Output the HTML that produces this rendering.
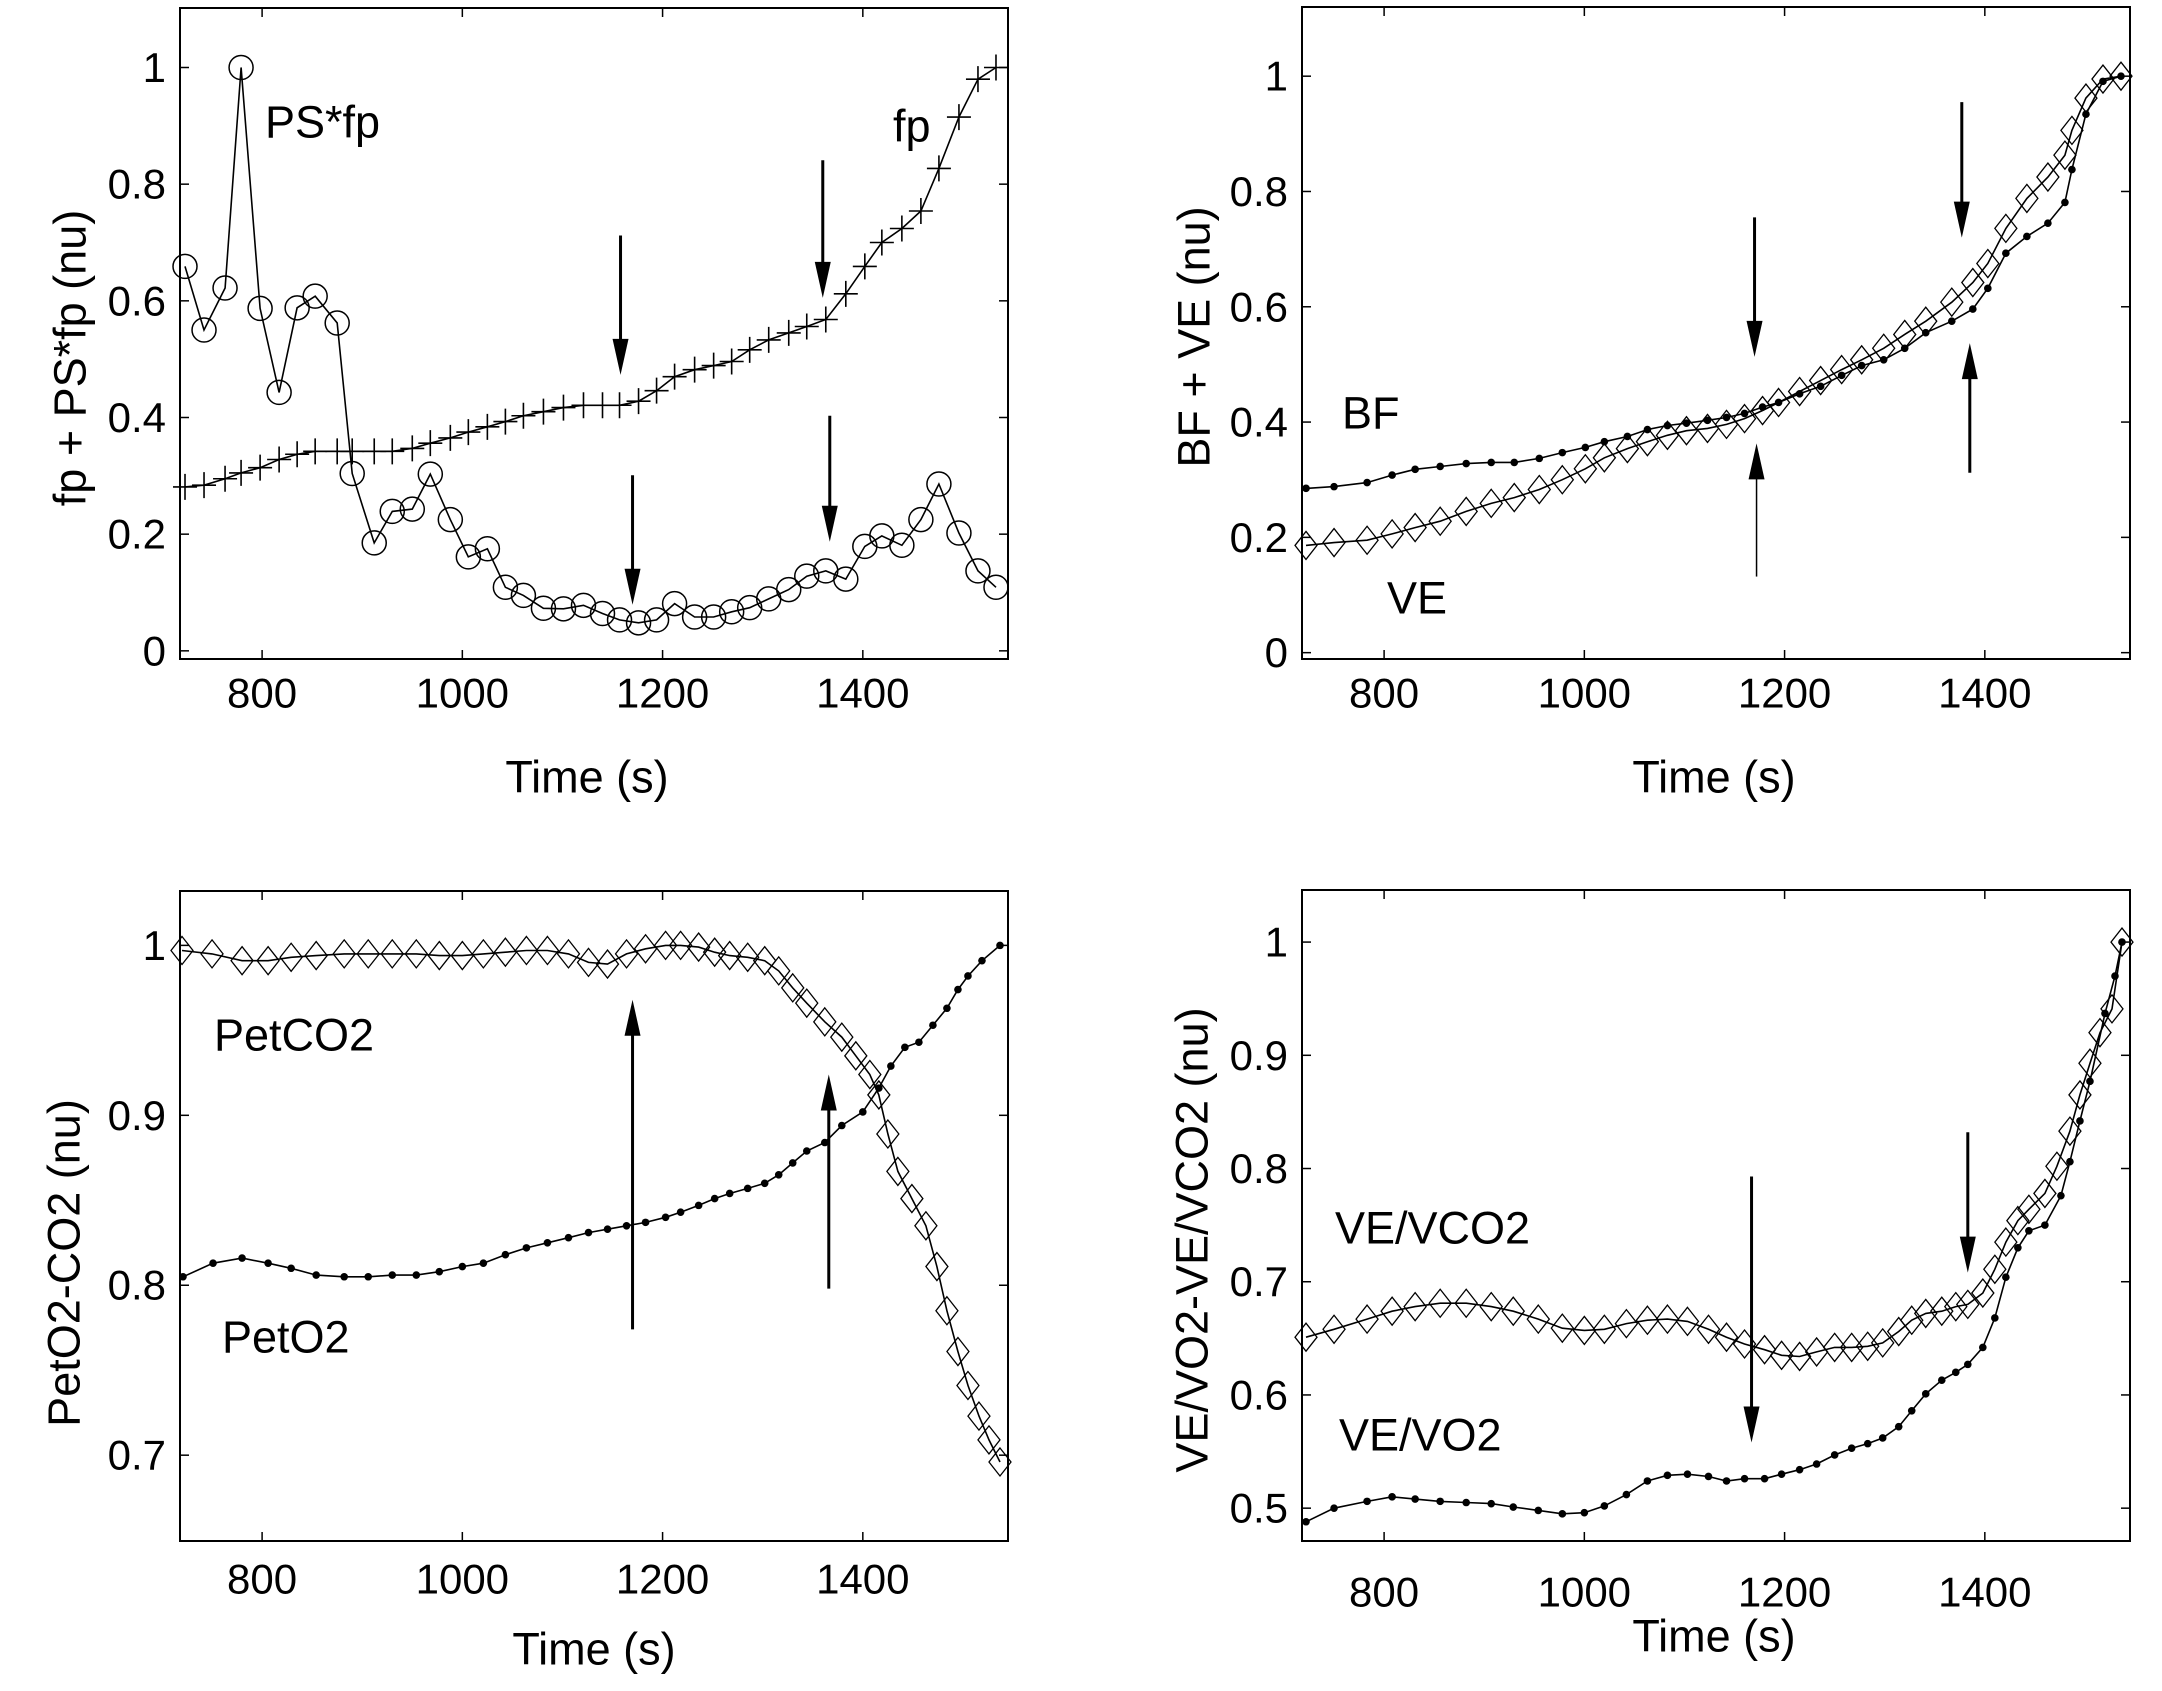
<!DOCTYPE html>
<html><head><meta charset="utf-8"><title>Physiological signals vs time</title>
<style>
html,body{margin:0;padding:0;background:#fff;}
svg{display:block;}
text{font-family:"Liberation Sans",Arial,sans-serif;fill:#000;}
</style></head>
<body>
<svg id="fig" width="2162" height="1691" viewBox="0 0 2162 1691" xmlns="http://www.w3.org/2000/svg"></svg>
<script>
// ---------- Panel A: fp + PS*fp ----------
const tA = [723,742,763,779,798,817,835,853,875,890,912,930,950,968,988,1006,1025,1043,1061,1081,1101,1121,1140,1157,1176,1194,1212,1232,1251,1269,1287,1306,1326,1344,1363,1383,1402,1419,1439,1458,1476,1496,1515,1533];
const psfp = [0.659,0.550,0.622,1.0,0.587,0.443,0.588,0.608,0.562,0.304,0.185,0.239,0.243,0.303,0.225,0.161,0.175,0.109,0.095,0.073,0.072,0.078,0.064,0.053,0.048,0.053,0.081,0.058,0.058,0.067,0.074,0.089,0.105,0.128,0.137,0.123,0.179,0.197,0.181,0.225,0.286,0.202,0.137,0.109];
const fp = [0.281,0.284,0.295,0.305,0.314,0.328,0.337,0.342,0.342,0.342,0.342,0.342,0.347,0.356,0.365,0.375,0.384,0.393,0.403,0.410,0.417,0.421,0.421,0.421,0.428,0.446,0.470,0.482,0.489,0.496,0.516,0.533,0.545,0.556,0.568,0.612,0.659,0.700,0.724,0.754,0.827,0.915,0.980,1.0];
// ---------- Panel B: BF + VE ----------
const tB = [722,750,783,808,831,856,882,907,930,955,978,1001,1020,1043,1063,1083,1102,1123,1142,1160,1178,1194,1215,1236,1257,1277,1299,1320,1341,1367,1388,1403,1421,1442,1463,1480,1487,1501,1518,1536];
const bf = [0.285,0.288,0.295,0.308,0.318,0.323,0.328,0.330,0.330,0.337,0.347,0.356,0.366,0.375,0.387,0.394,0.398,0.403,0.408,0.415,0.426,0.434,0.449,0.462,0.481,0.498,0.508,0.528,0.555,0.575,0.596,0.632,0.693,0.722,0.745,0.781,0.838,0.934,0.991,1.0];
const ve = [0.186,0.191,0.195,0.206,0.217,0.228,0.245,0.259,0.269,0.283,0.300,0.319,0.338,0.354,0.366,0.377,0.385,0.389,0.396,0.406,0.420,0.434,0.453,0.472,0.491,0.508,0.528,0.552,0.575,0.608,0.642,0.675,0.736,0.788,0.825,0.863,0.906,0.962,0.995,1.0];
// ---------- Panel C: PetO2 / PetCO2 ----------
const tC1 = [721,751,780,806,829,854,882,906,930,954,977,1000,1021,1043,1064,1085,1106,1126,1145,1164,1183,1203,1218,1236,1252,1267,1285,1302,1316,1330,1344,1362,1379,1400,1416,1428,1442,1456,1470,1484,1495,1505,1519,1537];
const peto2 = [0.805,0.813,0.816,0.813,0.810,0.806,0.805,0.805,0.806,0.806,0.808,0.811,0.813,0.818,0.822,0.825,0.828,0.831,0.833,0.835,0.837,0.840,0.843,0.847,0.851,0.854,0.857,0.860,0.865,0.872,0.879,0.884,0.894,0.902,0.916,0.929,0.940,0.943,0.953,0.963,0.974,0.982,0.991,1.0];
const tC2 = [720,750,780,806,829,854,882,906,930,954,977,1000,1021,1043,1064,1085,1106,1126,1145,1164,1183,1203,1218,1236,1252,1267,1285,1302,1316,1330,1344,1362,1379,1393,1407,1416,1425,1435,1449,1463,1474,1484,1495,1505,1516,1526,1537];
const petco2 = [0.997,0.995,0.991,0.991,0.993,0.994,0.995,0.995,0.995,0.995,0.994,0.994,0.995,0.996,0.997,0.997,0.995,0.990,0.989,0.995,0.998,1.0,1.0,0.999,0.996,0.994,0.993,0.991,0.985,0.975,0.966,0.955,0.946,0.935,0.924,0.912,0.889,0.867,0.851,0.835,0.811,0.785,0.761,0.741,0.723,0.709,0.696];
// ---------- Panel D: VE/VO2, VE/VCO2 ----------
const tD1 = [722,750,783,808,831,856,882,907,929,954,978,1000,1020,1042,1063,1083,1103,1124,1142,1160,1180,1197,1215,1232,1250,1267,1283,1298,1314,1327,1341,1357,1371,1383,1398,1410,1421,1433,1444,1460,1476,1485,1495,1505,1520,1530,1537];
const vevo2 = [0.488,0.500,0.506,0.510,0.508,0.506,0.505,0.504,0.501,0.498,0.495,0.496,0.502,0.512,0.524,0.529,0.530,0.528,0.524,0.526,0.526,0.530,0.534,0.539,0.547,0.553,0.557,0.562,0.572,0.586,0.601,0.613,0.620,0.627,0.642,0.668,0.704,0.730,0.745,0.750,0.776,0.806,0.842,0.877,0.937,0.970,1.0];
const tD2 = [722,750,783,808,831,856,882,907,929,954,978,1000,1020,1042,1063,1083,1103,1124,1142,1160,1180,1197,1215,1232,1250,1267,1283,1298,1314,1327,1341,1357,1371,1383,1398,1410,1421,1433,1444,1460,1472,1485,1495,1505,1515,1527,1537];
const vevco2 = [0.651,0.658,0.667,0.674,0.678,0.681,0.681,0.678,0.674,0.667,0.659,0.657,0.658,0.663,0.666,0.667,0.665,0.658,0.651,0.645,0.640,0.635,0.634,0.638,0.642,0.642,0.643,0.646,0.656,0.666,0.672,0.674,0.678,0.680,0.690,0.711,0.735,0.754,0.764,0.778,0.802,0.833,0.865,0.893,0.920,0.941,1.0];
const xTicks = [800,1000,1200,1400];
const yTicksA = [0,0.2,0.4,0.6,0.8,1];
const yTicksB = [0,0.2,0.4,0.6,0.8,1];
const yTicksC = [0.7,0.8,0.9,1];
const yTicksD = [0.5,0.6,0.7,0.8,0.9,1];

const NS = "http://www.w3.org/2000/svg";
const svg = document.getElementById('fig');
function mk(tag, attrs, parent){
  const e = document.createElementNS(NS, tag);
  for (const k in attrs) e.setAttribute(k, attrs[k]);
  (parent||svg).appendChild(e);
  return e;
}
function fmt(v){ return (Math.round(v*10)/10).toString(); }

function panel(p){
  const g = mk('g', {});
  
  
  const X = v => p.left + (v - 718) / (1545 - 718) * p.w;
  const Y = v => p.top + p.h - (v - p.y0) / (p.y1 - p.y0) * p.h;
  const frame = mk('rect', {x:p.left, y:p.top, width:p.w, height:p.h, fill:'none', stroke:'#000', 'stroke-width':2}, g);
  
  
  // x ticks
  xTicks.forEach(t => {
    const x = X(t);
    mk('line', {x1:x, x2:x, y1:p.top+p.h, y2:p.top+p.h-9, stroke:'#000','stroke-width':1.5}, g);
    mk('line', {x1:x, x2:x, y1:p.top, y2:p.top+9, stroke:'#000','stroke-width':1.5}, g);
    const tx = mk('text', {x:x, y:p.xtickY, 'font-size':42, 'text-anchor':'middle', 'dominant-baseline':'central'}, g);
    tx.textContent = t;
    
    
  });
  p.yticks.forEach(t => {
    const y = Y(t);
    mk('line', {x1:p.left, x2:p.left+9, y1:y, y2:y, stroke:'#000','stroke-width':1.5}, g);
    mk('line', {x1:p.left+p.w, x2:p.left+p.w-9, y1:y, y2:y, stroke:'#000','stroke-width':1.5}, g);
    const ty = mk('text', {x:p.left-14, y:y, 'font-size':42, 'text-anchor':'end', 'dominant-baseline':'central'}, g);
    ty.textContent = fmt(t);
    
    
  });
  const xl = mk('text', {x:p.xlabX, y:p.xlabY, 'font-size':45, 'text-anchor':'middle', 'dominant-baseline':'central'}, g);
  xl.textContent = 'Time (s)';
  
  
  const yl = mk('text', {x:0, y:0, 'font-size':45, 'text-anchor':'middle', 'dominant-baseline':'central',
     transform:'translate('+p.ylabX+','+p.ylabY+') rotate(-90)'}, g);
  yl.textContent = p.ylabel;
  
  
  // series
  p.series.forEach(s => {
    const sg = mk('g', {}, g);
    
    
    const pts = s.t.map((t,i) => X(t).toFixed(1)+','+Y(s.v[i]).toFixed(1)).join(' ');
    mk('polyline', {points:pts, fill:'none', stroke:'#000', 'stroke-width':1.6}, sg);
    s.t.forEach((t,i) => {
      const x = X(t), y = Y(s.v[i]);
      let m;
      if (s.marker === 'o') m = mk('circle', {cx:x, cy:y, r:12, fill:'none', stroke:'#000','stroke-width':1.5}, sg);
      else if (s.marker === '+') m = mk('path', {d:'M'+(x-12)+' '+y+'H'+(x+12)+'M'+x+' '+(y-13)+'V'+(y+13), stroke:'#000','stroke-width':1.6, fill:'none'}, sg);
      else if (s.marker === 'd') m = mk('path', {d:'M'+x+' '+(y-14)+'L'+(x+11)+' '+y+'L'+x+' '+(y+14)+'L'+(x-11)+' '+y+'Z', stroke:'#000','stroke-width':1.3, fill:'none'}, sg);
      else m = mk('circle', {cx:x, cy:y, r:3.8, fill:'#000'}, sg);
      
      
    });
  });
  p.arrows.forEach(a => {
    const x = X(a.t), y1 = Y(a.from), y2 = Y(a.to);
    const dir = y2 > y1 ? 1 : -1;
    const ag = mk('g', {}, g);
    
    
    mk('line', {x1:x, x2:x, y1:y1, y2:y2 - dir*30, stroke:'#000', 'stroke-width':a.w||3}, ag);
    mk('path', {d:'M'+(x-8)+' '+(y2-dir*36)+'L'+(x+8)+' '+(y2-dir*36)+'L'+x+' '+y2+'Z', fill:'#000'}, ag);
  });
  p.labels.forEach(l => {
    const t = mk('text', {x:l.x, y:l.y, 'font-size':45, 'dominant-baseline':'central'}, g);
    t.textContent = l.text;
    
    
  });
  return {X, Y};
}

panel({name:'panel-fp-psfp', left:180, top:8, w:828, h:651, y0:-0.014, y1:1.102, yticks:yTicksA,
  xtickY:693, xlabX:587, xlabY:777, ylabX:70, ylabY:358, ylabel:'fp + PS*fp (nu)',
  series:[{name:'series-fp', t:tA, v:fp, marker:'+'},{name:'series-psfp', t:tA, v:psfp, marker:'o'}],
  arrows:[{t:1158,from:0.712,to:0.473},{t:1360,from:0.841,to:0.605},{t:1170,from:0.301,to:0.079},{t:1367,from:0.403,to:0.187}],
  labels:[{text:'PS*fp', x:265, y:122, name:'label-psfp'},{text:'fp', x:893, y:126, name:'label-fp'}]});

panel({name:'panel-bf-ve', left:1302, top:7, w:828, h:652, y0:-0.011, y1:1.12, yticks:yTicksB,
  xtickY:693, xlabX:1714, xlabY:777, ylabX:1194, ylabY:337, ylabel:'BF + VE (nu)',
  series:[{name:'series-bf', t:tB, v:bf, marker:'.'},{name:'series-ve', t:tB, v:ve, marker:'d'}],
  arrows:[{t:1170,from:0.755,to:0.513},{t:1377,from:0.955,to:0.720},{t:1172,from:0.132,to:0.363,w:1.5},{t:1385,from:0.312,to:0.537}],
  labels:[{text:'BF', x:1342, y:413, name:'label-bf'},{text:'VE', x:1387, y:598, name:'label-ve'}]});

panel({name:'panel-peto2-petco2', left:180, top:891, w:828, h:650, y0:0.6495, y1:1.032, yticks:yTicksC,
  xtickY:1579, xlabX:594, xlabY:1649, ylabX:64, ylabY:1263, ylabel:'PetO2-CO2 (nu)',
  series:[{name:'series-peto2', t:tC1, v:peto2, marker:'.'},{name:'series-petco2', t:tC2, v:petco2, marker:'d'}],
  arrows:[{t:1170,from:0.774,to:0.968},{t:1366,from:0.798,to:0.924}],
  labels:[{text:'PetCO2', x:214, y:1035, name:'label-petco2'},{text:'PetO2', x:222, y:1337, name:'label-peto2'}]});

panel({name:'panel-vevo2-vevco2', left:1302, top:890, w:828, h:651, y0:0.471, y1:1.046, yticks:yTicksD,
  xtickY:1592, xlabX:1714, xlabY:1636, ylabX:1192, ylabY:1240, ylabel:'VE/VO2-VE/VCO2 (nu)',
  series:[{name:'series-vevo2', t:tD1, v:vevo2, marker:'.'},{name:'series-vevco2', t:tD2, v:vevco2, marker:'d'}],
  arrows:[{t:1167,from:0.793,to:0.558},{t:1383,from:0.832,to:0.708}],
  labels:[{text:'VE/VCO2', x:1335, y:1228, name:'label-vevco2'},{text:'VE/VO2', x:1339, y:1435, name:'label-vevo2'}]});
</script>
</body></html>
